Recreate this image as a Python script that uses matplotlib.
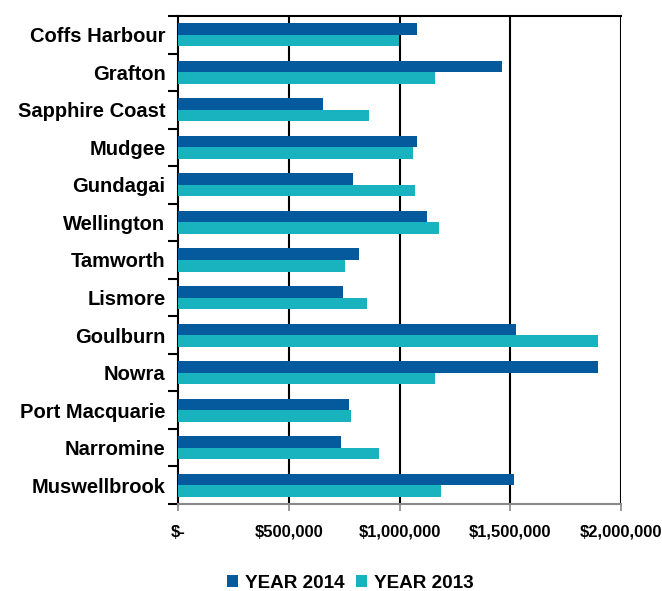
import numpy as np
import matplotlib.pyplot as plt
from matplotlib.ticker import FuncFormatter, FixedLocator

plt.rcParams['font.family'] = ['Liberation Sans', 'DejaVu Sans']
plt.rcParams['font.weight'] = 'bold'

towns = ["Coffs Harbour", "Grafton", "Sapphire Coast", "Mudgee", "Gundagai",
         "Wellington", "Tamworth", "Lismore", "Goulburn", "Nowra",
         "Port Macquarie", "Narromine", "Muswellbrook"]
year_2014 = [1077000, 1465000, 656000, 1077000, 791000, 1123000, 818000,
             746000, 1528000, 1896000, 773000, 737000, 1518000]
year_2013 = [998000, 1159000, 864000, 1061000, 1070000, 1177000, 755000,
             854000, 1896000, 1159000, 782000, 907000, 1186000]

c2014 = "#045a9c"
c2013 = "#19b3bf"

fig = plt.figure(figsize=(6.62, 5.91), dpi=100)
ax = fig.add_axes([178/662, 87/591, 443/662, 488/591])

y = np.arange(len(towns))
h = 0.307
ax.barh(y - h/2, year_2014, height=h, color=c2014, label="YEAR 2014", zorder=3)
ax.barh(y + h/2, year_2013, height=h, color=c2013, label="YEAR 2013", zorder=3)

ax.set_xlim(0, 2000000)
ax.set_ylim(len(towns) - 0.5, -0.5)

# vertical gridlines
for v in [500000, 1000000, 1500000, 2000000]:
    ax.axvline(v, color="black", lw=1.5, zorder=1)

ax.set_xticks([0, 500000, 1000000, 1500000, 2000000])
ax.xaxis.set_major_formatter(FuncFormatter(lambda v, p: "$-" if v == 0 else "${:,.0f}".format(v)))
ax.tick_params(axis="x", direction="out", length=5, width=1.2, color="#888888",
               labelsize=11.9, pad=10)

ax.set_yticks(y)
ax.set_yticklabels(towns)
ax.yaxis.set_minor_locator(FixedLocator(np.arange(-0.5, len(towns), 1.0)))
ax.tick_params(axis="y", which="major", length=0, labelsize=14.5, pad=9)
ax.tick_params(axis="y", which="minor", direction="out", length=7, width=1.5, color="black")

for lab in ax.get_xticklabels() + ax.get_yticklabels():
    lab.set_fontweight("bold")

ax.spines["left"].set_linewidth(1.5)
ax.spines["top"].set_linewidth(1.5)
ax.spines["right"].set_visible(False)
ax.spines["bottom"].set_color("#888888")
ax.spines["bottom"].set_linewidth(1.5)

fig.legend(loc="center", bbox_to_anchor=(350/662, 1 - 583/591), ncol=2, frameon=False,
           handlelength=0.6, handleheight=0.6, handletextpad=0.35,
           columnspacing=0.6, prop={"weight": "bold", "size": 13.6})

fig.savefig("out.png", dpi=100)
